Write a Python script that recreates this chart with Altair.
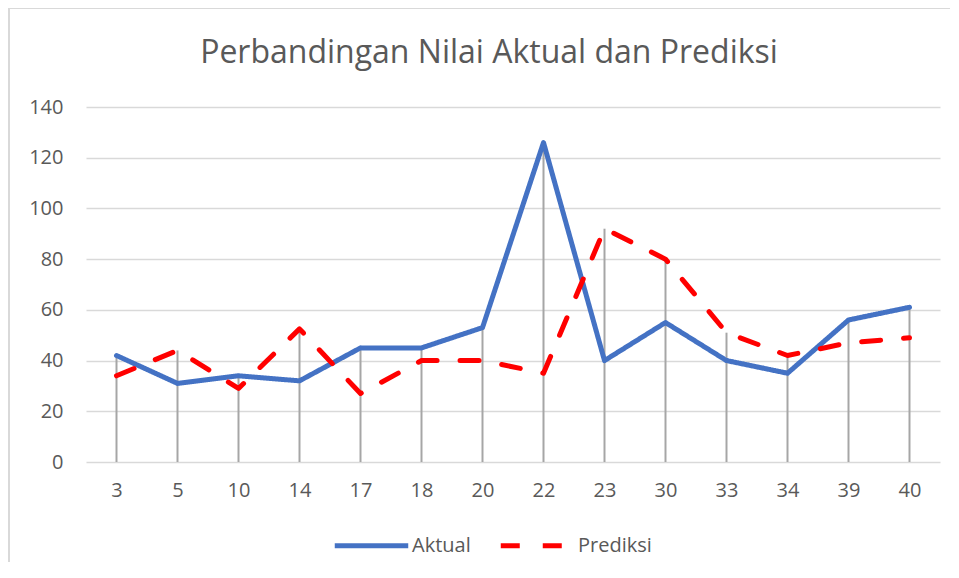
import altair as alt
import pandas as pd

chart_title = "Perbandingan Nilai Aktual dan Prediksi"
categories = ["3", "5", "10", "14", "17", "18", "20", "22", "23", "30", "33", "34", "39", "40"]
aktual = [42, 31, 34, 32, 45, 45, 53, 126, 40, 55, 40, 35, 56, 61]
prediksi = [34, 44, 29, 52.5, 27, 40, 40, 35, 92, 80, 51, 42, 47, 49]
series_names = ["Aktual", "Prediksi"]
series_colors = ["#4472C4", "#FF0000"]

long_rows = []
for name, vals in zip(series_names, [aktual, prediksi]):
    for c, v in zip(categories, vals):
        long_rows.append({"kategori": c, "seri": name, "nilai": v})
df_long = pd.DataFrame(long_rows)

df_drop = pd.DataFrame({
    "kategori": categories,
    "puncak": [max(a, p) for a, p in zip(aktual, prediksi)],
})

FONT = "Open Sans"
TXT = "#595959"

x_enc = alt.X(
    "kategori:O",
    sort=categories,
    scale=alt.Scale(type="point", padding=0.5),
    axis=alt.Axis(
        title=None, labelAngle=0, domain=False, ticks=False, grid=False,
        labelPadding=18, labelFontSize=20, labelColor=TXT, labelFont=FONT,
    ),
)
y_scale = alt.Scale(domain=[0, 140], nice=False)

legend_kw = dict(
    title=None, orient="none", direction="horizontal",
    legendX=246, legendY=399, symbolType="stroke", symbolSize=5400,
    symbolStrokeWidth=5, labelFontSize=20, labelColor=TXT, labelFont=FONT,
    labelOffset=1, columnPadding=19, padding=0,
)

drop = alt.Chart(df_drop).mark_rule(color="#a6a6a6", strokeWidth=2).encode(
    x=x_enc,
    y=alt.Y(
        "puncak:Q", scale=y_scale,
        axis=alt.Axis(
            title=None, values=list(range(0, 141, 20)), domain=False, ticks=False,
            grid=True, gridColor="#d9d9d9", gridWidth=1.5,
            labelPadding=23, labelFontSize=20, labelColor=TXT, labelFont=FONT,
        ),
    ),
    y2=alt.datum(0),
)

lines = alt.Chart(df_long).mark_line(strokeWidth=5, strokeCap="round", strokeJoin="round").encode(
    x=x_enc,
    y=alt.Y("nilai:Q", scale=y_scale),
    color=alt.Color(
        "seri:N",
        scale=alt.Scale(domain=series_names, range=series_colors),
        legend=alt.Legend(**legend_kw),
    ),
    strokeDash=alt.StrokeDash(
        "seri:N",
        scale=alt.Scale(domain=series_names, range=[[1, 0], [19, 23]]),
        legend=alt.Legend(**legend_kw),
    ),
)

border_left = alt.Chart(df_drop).mark_rule(color="#d9d9d9", strokeWidth=1.5).encode(
    x=alt.value(-77), y=alt.value(-99), y2=alt.value(480)
)
border_top = alt.Chart(df_drop).mark_rule(color="#d9d9d9", strokeWidth=1.5).encode(
    x=alt.value(-77), x2=alt.value(880), y=alt.value(-99)
)

title_text = alt.Chart(pd.DataFrame({"t": [chart_title]})).mark_text(
    font=FONT, fontSize=32, color=TXT, align="center", baseline="alphabetic"
).encode(text="t:N", x=alt.value(403), y=alt.value(-44))

chart = alt.layer(border_left, border_top, title_text, drop, lines).properties(
    width=854,
    height=355,
    autosize=alt.AutoSizeParams(type="none"),
    padding={"left": 78, "top": 99, "right": 10, "bottom": 100},
).configure_view(stroke=None)

chart.save("out.html", embed_options={"renderer": "svg", "actions": False})
